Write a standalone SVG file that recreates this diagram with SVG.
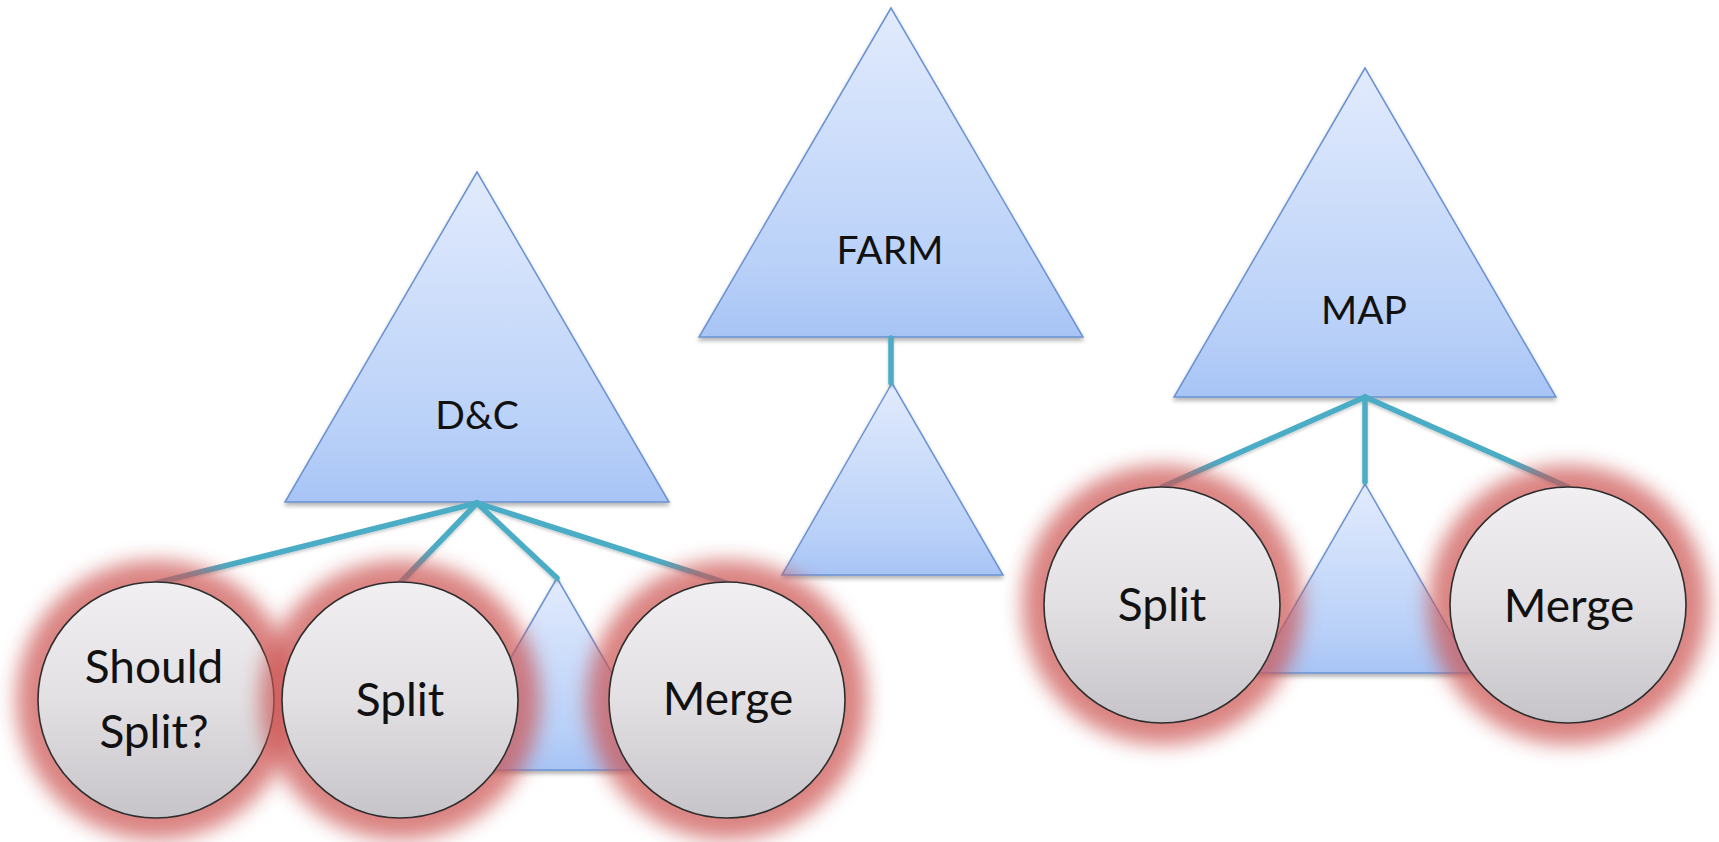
<svg xmlns="http://www.w3.org/2000/svg" width="1719" height="842" viewBox="0 0 1719 842">
  <defs>
    <linearGradient id="triFill" x1="0" y1="0" x2="0" y2="1">
      <stop offset="0" stop-color="#e2ebfd"/>
      <stop offset="0.8" stop-color="#b8d0f8"/>
      <stop offset="1" stop-color="#a7c4f5"/>
    </linearGradient>
    <linearGradient id="circFill" x1="0" y1="0" x2="0" y2="1">
      <stop offset="0" stop-color="#f1eff2"/>
      <stop offset="0.5" stop-color="#e2e0e3"/>
      <stop offset="1" stop-color="#c6c4c8"/>
    </linearGradient>
    <filter id="shadow" x="-10%" y="-10%" width="120%" height="130%">
      <feDropShadow dx="0" dy="3" stdDeviation="2" flood-color="#000" flood-opacity="0.3"/>
    </filter>
    <filter id="lineShadow" x="-10%" y="-10%" width="120%" height="130%">
      <feDropShadow dx="0" dy="2" stdDeviation="1.5" flood-color="#000" flood-opacity="0.2"/>
    </filter>
    <filter id="glowBlur" x="-30%" y="-30%" width="160%" height="160%">
      <feGaussianBlur stdDeviation="10"/>
    </filter>
  </defs>
  <style>
    .tri { fill: url(#triFill); stroke: #6a92d2; stroke-width: 1.5; stroke-linejoin: miter; filter: url(#shadow); }
    .conn { stroke: #4bacc6; stroke-width: 5.5; stroke-linecap: round; fill: none; }
    .glow { fill: #cc5552; opacity: 0.72; filter: url(#glowBlur); }
    .circ { fill: url(#circFill); stroke: #2e2e2e; stroke-width: 1.6; }
    .lbl { font-family: Lato, "Liberation Sans", sans-serif; fill: #111; text-anchor: middle; }
    .big { font-size: 39px; }
    .small { font-size: 46px; }
  </style>

  <!-- pattern triangles -->
  <g id="dc">
    <polygon class="tri" points="477,172 285,502 669,502"/>
    <text class="lbl big" x="477" y="429">D&amp;C</text>
  </g>
  <g id="farm">
    <polygon class="tri" points="891,8 699,337 1083,337"/>
    <text class="lbl big" x="890" y="264">FARM</text>
  </g>
  <g id="map">
    <polygon class="tri" points="1365,68 1174,397 1556,397"/>
    <text class="lbl big" x="1364" y="324">MAP</text>
  </g>

  <!-- nested worker triangles -->
  <g id="dc-worker">
    <polygon class="tri" points="557,578 446,770 668,770"/>
  </g>
  <g id="farm-worker">
    <polygon class="tri" points="892,383 782,575 1003,575"/>
  </g>
  <g id="map-worker">
    <polygon class="tri" points="1365,484 1256,673 1474,673"/>
  </g>

  <!-- connectors -->
  <g id="connectors" filter="url(#lineShadow)">
    <path class="conn" d="M477,503 L156,583"/>
    <path class="conn" d="M477,503 L400,583"/>
    <path class="conn" d="M477,503 L557,578"/>
    <path class="conn" d="M477,503 L727,583"/>
    <path class="conn" d="M891,338 L891,383"/>
    <path class="conn" d="M1365,397 L1162,487"/>
    <path class="conn" d="M1365,397 L1365,482"/>
    <path class="conn" d="M1365,397 L1568,487"/>
  </g>

  <!-- customisable functions -->
  <g id="dc-should-split">
    <circle class="glow" cx="156" cy="700" r="140"/>
    <circle class="circ" cx="156" cy="700" r="118"/>
    <text class="lbl small" x="154" y="683">Should</text>
    <text class="lbl small" x="154" y="748">Split?</text>
  </g>
  <g id="dc-split">
    <circle class="glow" cx="400" cy="700" r="140"/>
    <circle class="circ" cx="400" cy="700" r="118"/>
    <text class="lbl small" x="400" y="716">Split</text>
  </g>
  <g id="dc-merge">
    <circle class="glow" cx="727" cy="700" r="140"/>
    <circle class="circ" cx="727" cy="700" r="118"/>
    <text class="lbl small" x="728" y="715">Merge</text>
  </g>
  <g id="map-split">
    <circle class="glow" cx="1162" cy="605" r="140"/>
    <circle class="circ" cx="1162" cy="605" r="118"/>
    <text class="lbl small" x="1162" y="621">Split</text>
  </g>
  <g id="map-merge">
    <circle class="glow" cx="1568" cy="605" r="140"/>
    <circle class="circ" cx="1568" cy="605" r="118"/>
    <text class="lbl small" x="1569" y="622">Merge</text>
  </g>
</svg>
